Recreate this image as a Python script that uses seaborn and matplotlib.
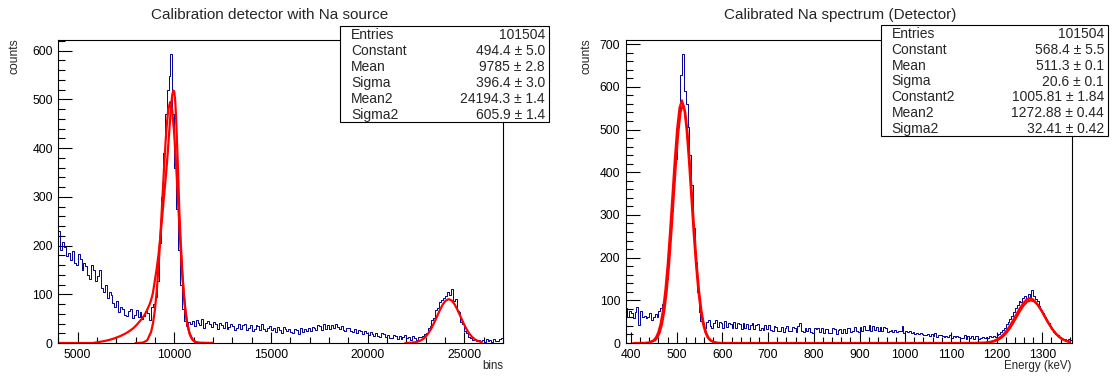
import numpy as np
import matplotlib
matplotlib.use("Agg")
import matplotlib.pyplot as plt
from matplotlib.patches import Rectangle
from matplotlib.ticker import MultipleLocator
import seaborn as sns

# ---------------- data: left panel (raw bins) ----------------
left_edges_start = 4000
left_bin_width = 100
left_counts = [
    230, 190, 208, 196, 178, 185, 170, 188, 165, 160,
    182, 172, 150, 165, 158, 140, 132, 160, 150, 128,
    138, 150, 112, 104, 120, 92, 104, 98, 82, 74,
    86, 64, 74, 70, 58, 56, 66, 70, 52, 58,
    68, 54, 64, 50, 56, 66, 62, 48, 74, 80,
    95, 128, 205, 300, 390, 470, 520, 548, 592, 470,
    360, 275, 190, 120, 70, 46, 34, 44, 38, 46,
    34, 48, 41, 36, 50, 30, 42, 46, 39, 33,
    44, 38, 28, 41, 37, 30, 44, 28, 33, 40,
    35, 26, 31, 38, 29, 36, 40, 27, 30, 36,
    25, 28, 37, 34, 27, 39, 29, 24, 30, 35,
    27, 30, 23, 33, 26, 21, 32, 29, 24, 28,
    22, 21, 29, 26, 19, 30, 23, 29, 25, 31,
    25, 33, 30, 26, 36, 34, 27, 38, 28, 36,
    29, 36, 30, 38, 33, 28, 34, 26, 25, 31,
    30, 24, 22, 28, 20, 27, 25, 18, 24, 21,
    17, 22, 19, 15, 21, 14, 13, 20, 18, 12,
    17, 11, 10, 16, 14, 9, 15, 8, 12, 16,
    10, 13, 7, 14, 10, 6, 12, 13, 14, 19,
    20, 30, 34, 48, 52, 68, 72, 84, 88, 92,
    96, 104, 98, 110, 86, 90, 66, 64, 44, 38,
    24, 21, 12, 11, 6, 8, 5, 7, 4, 6,
    3, 8, 4, 7, 3, 9, 5, 4, 8, 10,
]

# fit curves (left)
fitA_x = [4000, 5800, 6000, 6250, 6500, 6750, 7000, 7250, 7500, 7700, 7900, 8050, 8200, 8330,
          8450, 8550, 8630, 8720, 8800, 8890, 8970, 9080, 9180, 9260, 9340, 9420, 9500, 9580,
          9660, 9740, 9820, 9890, 9950, 10000, 10050, 10100, 10150, 10200, 10260, 10340, 10420,
          10500, 10580, 10680, 10800, 10950, 11100, 11300, 12000]
fitA_y = [0, 0, 1.5, 3, 5, 7.5, 11, 15, 20, 25, 31, 37, 44, 50,
          57, 64, 71, 79, 88, 102, 122, 150, 180, 210, 245, 280, 315, 350,
          390, 435, 480, 508, 518, 515, 495, 455, 400, 345, 270, 200, 140,
          95, 62, 36, 18, 6.5, 2, 0.3, 0]

fitB_x = [8000, 8200, 8400, 8600, 8800, 8900, 8993, 9092, 9191, 9290, 9389, 9488, 9587, 9686,
          9785, 9884, 9983, 10082, 10181, 10280, 10379, 10478, 10577, 10676, 10775, 10875,
          10974, 11100, 11300, 11600, 12000]
fitB_y = [0.0, 0.2, 1.1, 5.6, 22.6, 40.9, 66.9, 106.9, 160.5, 226.3, 299.9, 373.2, 436.3, 479.2,
          494.4, 479.2, 436.3, 373.2, 299.9, 226.3, 160.5, 106.9, 66.9, 39.3, 21.7, 11.3,
          5.5, 2.0, 0.33, 0, 0]

fitC_x = [21950, 22200, 22450, 22680, 22830, 22980, 23133, 23285, 23436, 23588, 23740, 23891,
          24043, 24194, 24346, 24497, 24649, 24800, 24952, 25103, 25255, 25406, 25558, 25710, 25900]
fitC_y = [0.1, 0.4, 1.4, 3.95, 7.2, 12.2, 19.5, 29.2, 41.2, 54.6, 67.9, 79.4,
          87.2, 90.0, 87.2, 79.4, 67.9, 54.6, 41.2, 29.2, 19.5, 12.2, 7.2, 3.95, 1.7]

# ---------------- data: right panel (calibrated, keV) ----------------
right_edges_start = 388
right_bin_width = 4
right_counts = [
    82, 62, 76, 70, 58, 72, 84, 42, 74, 62,
    64, 58, 61, 70, 55, 60, 68, 62, 74, 82,
    92, 118, 150, 190, 250, 310, 385, 430, 505, 540,
    628, 676, 590, 560, 505, 440, 370, 270, 190, 120,
    72, 52, 46, 36, 50, 54, 40, 35, 48, 55,
    38, 49, 47, 36, 52, 37, 48, 45, 35, 50,
    36, 46, 44, 33, 48, 34, 45, 32, 43, 47,
    33, 42, 44, 31, 34, 30, 41, 32, 43, 31,
    29, 39, 37, 27, 28, 38, 26, 36, 40, 28,
    27, 37, 35, 25, 39, 46, 28, 26, 36, 27,
    35, 25, 24, 34, 33, 36, 25, 34, 23, 33,
    32, 24, 23, 34, 32, 22, 31, 33, 23, 32,
    24, 34, 36, 25, 27, 38, 29, 26, 37, 28,
    39, 30, 31, 41, 28, 40, 30, 38, 27, 37,
    29, 38, 36, 26, 27, 31, 25, 30, 26, 29,
    27, 39, 24, 28, 25, 27, 23, 25, 22, 24,
    20, 23, 22, 19, 18, 21, 17, 20, 16, 23,
    15, 19, 18, 16, 14, 17, 13, 19, 12, 16,
    13, 17, 15, 12, 11, 18, 10, 17, 11, 16,
    10, 17, 16, 9, 11, 15, 12, 14, 11, 17,
    14, 16, 15, 18, 21, 25, 30, 36, 44, 50,
    56, 63, 72, 82, 88, 98, 96, 106, 110, 104,
    115, 108, 124, 110, 102, 98, 86, 78, 70, 60,
    52, 46, 38, 32, 26, 22, 18, 14, 12, 10,
    9, 8, 10, 6,
]

fitR1_x = [405, 430, 440, 449.5, 454.6, 459.8, 464.9, 470.1, 475.2, 480.4, 485.5, 490.7, 495.85,
           501.0, 506.15, 511.3, 516.45, 521.6, 526.75, 531.9, 537.05, 542.2, 547.35, 552.5,
           557.65, 562.8, 567.95, 573.1, 582, 595, 620, 1150, 1175, 1184.8, 1192.9, 1201.0,
           1209.1, 1217.2, 1225.3, 1233.4, 1241.5, 1249.6, 1257.7, 1265.8, 1272.9, 1280.0,
           1288.1, 1296.2, 1304.3, 1312.4, 1320.5, 1328.6, 1336.7, 1344.8, 1352.9, 1360]
fitR1_y = [0, 0.23, 1.4, 6.3, 12.9, 24.9, 45.2, 76.9, 122.9, 184.6, 260.2, 344.7, 429.0,
           501.6, 550.9, 568.4, 550.9, 501.6, 429.0, 344.7, 260.2, 184.6, 122.9, 76.9,
           45.2, 24.9, 12.9, 6.3, 1.6, 0.2, 0, 0.08, 1.1, 2.4, 4.6, 8.4,
           14.2, 22.7, 34.1, 48.1, 63.7, 79.3, 92.7, 101.8, 105.0, 101.8,
           92.7, 79.3, 63.7, 48.1, 34.1, 22.7, 14.2, 8.4, 4.6, 2.8]

fitR2_x = [440, 452.6, 457.7, 462.8, 467.8, 472.9, 478.0, 483.05, 488.1, 493.2, 498.3, 503.35,
           508.4, 513.5, 518.6, 523.65, 528.7, 533.8, 538.9, 543.95, 549.0, 554.1, 559.2,
           564.3, 569.3, 574.4, 585]
fitR2_y = [0.8, 6.2, 12.7, 24.5, 44.4, 75.5, 120.7, 181.2, 255.5, 338.4, 421.2, 492.4,
           540.8, 558.0, 540.8, 492.4, 421.2, 338.4, 255.5, 181.2, 120.7, 75.5, 44.4,
           24.5, 12.7, 6.2, 1.1]

fitR3_x = [1180, 1188.4, 1196.25, 1204.1, 1212.0, 1219.9, 1227.75, 1235.6, 1243.5, 1251.4,
           1259.25, 1267.1, 1275, 1282.9, 1290.75, 1298.6, 1306.5, 1314.4, 1322.25, 1330.1,
           1338.0, 1345.9, 1353.75, 1360]
fitR3_y = [1.0, 2.3, 4.4, 8.0, 13.5, 21.6, 32.5, 45.8, 60.7, 75.5, 88.2, 97.0, 100.0, 97.0,
           88.2, 75.5, 60.7, 45.8, 32.5, 21.6, 13.5, 8.0, 4.4, 2.6]

left_stats_names = ["Entries", "Constant", "Mean", "Sigma", "Mean2", "Sigma2"]
left_stats_values = ["101504", "494.4 \u00b1 5.0", "9785 \u00b1 2.8", "396.4 \u00b1 3.0",
                     "24194.3 \u00b1 1.4", "605.9 \u00b1 1.4"]
right_stats_names = ["Entries", "Constant", "Mean", "Sigma", "Constant2", "Mean2", "Sigma2"]
right_stats_values = ["101504", "568.4 \u00b1 5.5", "511.3 \u00b1 0.1", "20.6 \u00b1 0.1",
                      "1005.81 \u00b1 1.84", "1272.88 \u00b1 0.44", "32.41 \u00b1 0.42"]

titles = ["Calibration detector with Na source", "Calibrated Na spectrum (Detector)"]
xlabels = ["bins", "Energy (keV)"]

# ---------------- style ----------------
sns.set_theme(style="white")
plt.rcParams['font.family'] = ['Liberation Sans', 'DejaVu Sans']
plt.rcParams['axes.edgecolor'] = 'black'
plt.rcParams['axes.linewidth'] = 0.8

W, H = 1116, 379
fig = plt.figure(figsize=(W / 100, H / 100), dpi=100)

BLUE = '#000099'
RED = '#ff0000'


def px(x0, y0, x1, y1):
    return [x0 / W, 1 - y1 / H, (x1 - x0) / W, (y1 - y0) / H]


def draw_panel(rect, start, width, counts, curves, xlim, ylim, xmaj, xmin,
               title, title_x, xlabel, xlabel_x, ylabel_x, box, names, values):
    ax = fig.add_axes(px(*rect))
    counts = np.asarray(counts, dtype=float)
    edges = start + width * np.arange(len(counts) + 1)
    step_y = np.append(counts, counts[-1])
    sns.lineplot(x=edges, y=step_y, drawstyle='steps-post', estimator=None, sort=False,
                 color=BLUE, linewidth=0.7, ax=ax)
    for cx, cy in curves:
        sns.lineplot(x=cx, y=cy, sort=False, estimator=None, color=RED,
                     linewidth=1.6, ax=ax)
    ax.set_xlim(*xlim)
    ax.set_ylim(*ylim)
    ax.set_xlabel('')
    ax.set_ylabel('')
    ax.xaxis.set_major_locator(MultipleLocator(xmaj))
    ax.xaxis.set_minor_locator(MultipleLocator(xmin))
    ax.yaxis.set_major_locator(MultipleLocator(100))
    ax.yaxis.set_minor_locator(MultipleLocator(20))
    ax.tick_params(axis='both', which='both', direction='in', top=False, right=False,
                   bottom=True, left=True, labelsize=8.7, colors='black')
    ax.tick_params(axis='y', which='major', length=10, width=0.8, pad=4)
    ax.tick_params(axis='y', which='minor', length=5, width=0.8)
    ax.tick_params(axis='x', which='major', length=8, width=0.8, pad=4)
    ax.tick_params(axis='x', which='minor', length=4, width=0.8)
    for s in ax.spines.values():
        s.set_visible(True)
        s.set_color('black')
        s.set_linewidth(0.8)
    ax.set_facecolor('white')

    fig.text(title_x / W, 1 - 15 / H, title, ha='center', va='center', fontsize=11)
    fig.text(xlabel_x / W, 1 - 366 / H, xlabel, ha='right', va='center', fontsize=8.3)
    fig.text(ylabel_x / W, 1 - 38 / H, 'counts', ha='center', va='top', rotation=90,
             fontsize=8.7)

    bx0, by0, bx1, by1 = box
    fig.patches.append(Rectangle((bx0 / W, 1 - by1 / H), (bx1 - bx0) / W, (by1 - by0) / H,
                                 transform=fig.transFigure, facecolor='white',
                                 edgecolor='black', linewidth=0.8, zorder=5))
    n = len(names)
    step = (by1 - by0) / n
    for i, (nm, val) in enumerate(zip(names, values)):
        yy = by0 + step * (i + 0.5) + 1
        fig.text((bx0 + 11) / W, 1 - yy / H, nm, ha='left', va='center', fontsize=10, zorder=6)
        fig.text((bx1 - 4) / W, 1 - yy / H, val, ha='right', va='center', fontsize=10, zorder=6)
    return ax


draw_panel((58.3, 40, 503, 343), left_edges_start, left_bin_width, left_counts,
           [(fitA_x, fitA_y), (fitB_x, fitB_y), (fitC_x, fitC_y)],
           (4000, 27000), (0, 1.05 * max(left_counts)), 5000, 1000,
           titles[0], 270, xlabels[0], 503, 14, (340, 26, 549, 122),
           left_stats_names, left_stats_values)

draw_panel((625.7, 40, 1071.7, 343), right_edges_start, right_bin_width, right_counts,
           [(fitR1_x, fitR1_y), (fitR2_x, fitR2_y), (fitR3_x, fitR3_y)],
           (388.4, 1364.3), (0, 1.05 * max(right_counts)), 100, 20,
           titles[1], 840, xlabels[1], 1071.7, 586, (880.7, 25, 1108, 136),
           right_stats_names, right_stats_values)

fig.savefig('out.png', dpi=100, facecolor='white')
